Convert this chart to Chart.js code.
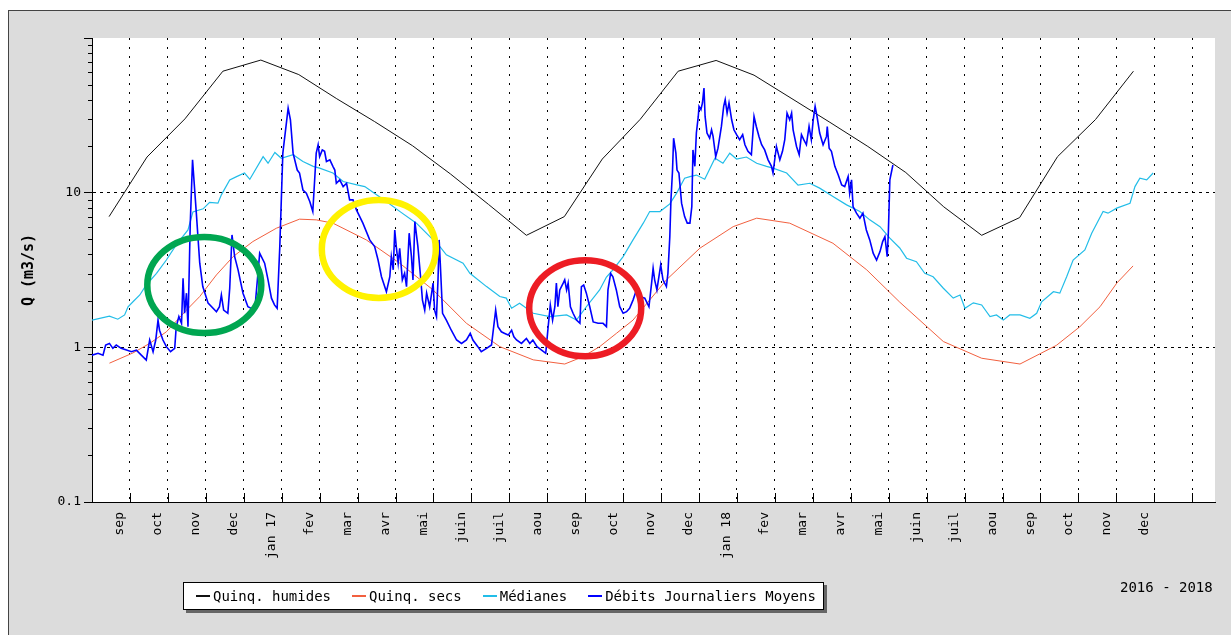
<!DOCTYPE html>
<html>
  <head>
    <meta charset="utf-8" />
    <title>Débits Journaliers Moyens 2016 - 2018</title>
    <style>
      body { margin: 0; background: #fff; }
      #frame {
        position: absolute; left: 8px; top: 10px; width: 1222px; height: 640px;
        background: #dcdcdc; border: 1px solid #444;
      }
      #chart { position: absolute; left: 0; top: 0; }
      #legend {
        position: absolute; left: 183px; top: 582px; height: 28px; box-sizing: border-box;
        padding: 0 7px 0 12px; background: #fff; border: 1px solid #000;
        box-shadow: 3px 3px 0 #666; display: flex; align-items: center;
        font: 14px "DejaVu Sans Mono", monospace; color: #000; white-space: nowrap;
      }
      #legend .item { display: flex; align-items: center; margin-right: 21px; }
      #legend .item:last-child { margin-right: 0; }
      #legend .swatch { width: 14px; height: 2px; margin-right: 3px; }
      #years {
        position: absolute; left: 1120px; top: 579px;
        font: 14px "DejaVu Sans Mono", monospace; color: #000; white-space: nowrap;
      }
    </style>
  </head>
  <body>
    <div id="frame"></div>
    <canvas id="chart" width="1231" height="635"></canvas>
    <div id="legend"></div>
    <div id="years">2016 - 2018</div>

    <script src="https://cdn.jsdelivr.net/npm/chart.js"></script>
    <script>
      // x = months counted from 1 Sep 2016 (0 = sep 2016, 12 = sep 2017 ...)
      const monthLabels = ["sep", "oct", "nov", "dec", "jan 17", "fev", "mar", "avr", "mai", "juin", "juil", "aou",
        "sep", "oct", "nov", "dec", "jan 18", "fev", "mar", "avr", "mai", "juin", "juil", "aou",
        "sep", "oct", "nov", "dec"];
      const yTickValues = [0.1, 0.2, 0.3, 0.4, 0.5, 0.6, 0.7, 0.8, 0.9, 1, 2, 3, 4, 5, 6, 7, 8, 9,
        10, 20, 30, 40, 50, 60, 70, 80, 90, 100];
      const yLabelValues = [0.1, 1, 10];
      const yLabelTexts = ["0.1", "1", "10"];

      // Quinq. humides (monthly)
      const humidesMonth = [-0.55, 0.45, 1.45, 2.45, 3.45, 4.45, 5.45, 6.45, 7.45, 8.45, 9.45, 10.45, 11.45, 12.45,
        13.45, 14.45, 15.45, 16.45, 17.45, 18.45, 19.45, 20.45, 21.45, 22.45, 23.45, 24.45, 25.45, 26.45];
      const humidesQ = [7.0, 17, 30, 61, 72, 58, 40.5, 28.8, 20.1, 13.2, 8.4, 5.3, 7.0, 16.5,
        29.8, 61, 71.6, 57.5, 40.5, 28.5, 19.9, 13.5, 8.1, 5.3, 6.9, 17.1, 29.7, 61];

      // Quinq. secs
      const secsMonth = [-0.54, 0.08, 0.52, 0.96, 1.49, 1.84, 2.28, 2.72, 3.24, 3.86, 4.47, 4.91, 5.35, 6.23, 7.11,
        7.99, 8.87, 9.75, 10.63, 11.46, 11.94, 12.38, 12.82, 13.26, 14.14, 15.02, 15.9, 16.52, 17.39, 18.53, 19.42,
        20.29, 21.44, 22.45, 23.46, 24.42, 25.04, 25.57, 26.01, 26.44];
      const secsQ = [0.79, 0.92, 1.06, 1.26, 1.74, 2.13, 2.94, 3.86, 4.83, 5.89, 6.74, 6.67, 6.35, 4.95, 3.5,
        2.35, 1.43, 1.01, 0.83, 0.78, 0.87, 1.01, 1.23, 1.5, 2.73, 4.37, 6.03, 6.84, 6.35, 4.71, 3.17,
        1.96, 1.09, 0.85, 0.78, 1.03, 1.36, 1.83, 2.6, 3.36];

      // Médianes
      const medianesMonth = [-1.0, -0.54, -0.32, -0.14, -0.05, 0.08, 0.26, 0.43, 0.7, 0.96,
        1.22, 1.53, 1.66, 1.93, 2.1, 2.32, 2.41, 2.63, 2.81, 3.02,
        3.16, 3.51, 3.64, 3.82, 3.99, 4.3, 4.56, 4.83, 5.0, 5.35,
        5.62, 6.01, 6.19, 6.5, 6.76, 7.11, 7.55, 8.17, 8.34, 8.78,
        8.96, 9.4, 9.75, 9.92, 10.06, 10.27, 10.63, 11.07, 11.51, 11.77,
        12.03, 12.38, 12.56, 12.73, 13.0, 13.26, 13.53, 13.7, 13.97, 14.23,
        14.41, 14.62, 14.76, 14.93, 15.15, 15.42, 15.63, 15.81, 15.99, 16.25,
        16.52, 16.78, 16.95, 17.31, 17.61, 17.92, 18.18, 18.53, 18.89, 19.24,
        19.5, 19.77, 20.03, 20.29, 20.47, 20.73, 20.95, 21.17, 21.44, 21.7,
        21.88, 22.01, 22.23, 22.45, 22.67, 22.84, 23.02, 23.19, 23.46, 23.72,
        23.9, 24.03, 24.34, 24.51, 24.69, 24.86, 25.17, 25.35, 25.65, 25.78,
        26.01, 26.36, 26.49, 26.62, 26.8, 26.97];
      const medianesQ = [1.5, 1.59, 1.52, 1.62, 1.83, 1.97, 2.18, 2.53, 3.01, 3.67,
        4.59, 5.74, 7.51, 7.86, 8.65, 8.55, 9.68, 12.1, 12.7, 13.4,
        12.2, 17.1, 15.5, 18.2, 16.7, 17.6, 15.9, 14.8, 14.4, 13.4,
        11.8, 11.2, 10.95, 9.68, 8.76, 7.57, 6.35, 4.48, 3.96, 3.5,
        3.01, 2.47, 2.13, 2.08, 1.79, 1.93, 1.66, 1.58, 1.62, 1.5,
        1.83, 2.35, 2.85, 3.17, 3.86, 4.95, 6.35, 7.55, 7.55, 8.46,
        9.93, 12.4, 12.7, 13.0, 12.2, 16.7, 15.5, 18.0, 16.5, 17.0,
        15.5, 14.8, 14.4, 13.4, 11.2, 11.5, 10.7, 9.44, 8.34, 7.55,
        6.67, 6.03, 5.08, 4.39, 3.77, 3.58, 3.01, 2.86, 2.41, 2.08,
        2.18, 1.79, 1.94, 1.88, 1.58, 1.62, 1.5, 1.62, 1.62, 1.54,
        1.66, 1.97, 2.29, 2.24, 2.86, 3.67, 4.26, 5.47, 7.55, 7.37,
        7.94, 8.55, 10.95, 12.4, 12.1, 13.4];

      // Débits Journaliers Moyens
      const debitsMonth = [-1.0, -0.84, -0.71, -0.64, -0.54, -0.45, -0.36, -0.23, -0.09, 0.04,
        0.17, 0.3, 0.43, 0.52, 0.61, 0.68, 0.74, 0.78, 0.87, 0.96,
        1.07, 1.18, 1.22, 1.29, 1.36, 1.4, 1.44, 1.49, 1.53, 1.59,
        1.65, 1.75, 1.84, 1.92, 2.06, 2.28, 2.36, 2.41, 2.47, 2.58,
        2.63, 2.69, 2.76, 2.85, 2.98, 3.11, 3.29, 3.42, 3.55, 3.64,
        3.73, 3.81, 3.88, 3.95, 4.03, 4.17, 4.23, 4.3, 4.41, 4.47,
        4.56, 4.65, 4.74, 4.82, 4.91, 4.96, 5.0, 5.07, 5.13, 5.18,
        5.27, 5.35, 5.4, 5.44, 5.53, 5.62, 5.71, 5.79, 5.88, 5.97,
        6.14, 6.32, 6.45, 6.54, 6.63, 6.76, 6.85, 6.89, 6.94, 6.98,
        7.02, 7.07, 7.11, 7.18, 7.24, 7.29, 7.36, 7.42, 7.46, 7.51,
        7.59, 7.66, 7.71, 7.77, 7.82, 7.9, 7.99, 8.03, 8.08, 8.12,
        8.15, 8.18, 8.24, 8.34, 8.47, 8.61, 8.74, 8.87, 8.97, 9.04,
        9.17, 9.26, 9.4, 9.53, 9.64, 9.7, 9.79, 9.88, 9.97, 10.06,
        10.12, 10.19, 10.32, 10.45, 10.54, 10.62, 10.73, 10.85, 10.96, 11.02,
        11.08, 11.14, 11.2, 11.24, 11.28, 11.33, 11.42, 11.46, 11.51, 11.55,
        11.61, 11.68, 11.77, 11.86, 11.9, 11.96, 12.03, 12.12, 12.21, 12.34,
        12.47, 12.56, 12.6, 12.67, 12.73, 12.82, 12.91, 13.0, 13.09, 13.17,
        13.26, 13.35, 13.44, 13.57, 13.68, 13.75, 13.79, 13.83, 13.89, 13.95,
        13.99, 14.05, 14.14, 14.18, 14.23, 14.26, 14.3, 14.33, 14.39, 14.42,
        14.47, 14.54, 14.62, 14.69, 14.76, 14.81, 14.84, 14.89, 14.93, 14.98,
        15.0, 15.05, 15.09, 15.13, 15.16, 15.21, 15.28, 15.33, 15.37, 15.44,
        15.5, 15.59, 15.65, 15.69, 15.74, 15.79, 15.86, 15.92, 15.99, 16.07,
        16.15, 16.21, 16.29, 16.38, 16.45, 16.51, 16.58, 16.65, 16.73, 16.82,
        16.91, 16.95, 17.04, 17.13, 17.2, 17.26, 17.32, 17.39, 17.44, 17.48,
        17.57, 17.64, 17.7, 17.76, 17.83, 17.9, 17.96, 18.01, 18.06, 18.11,
        18.18, 18.27, 18.36, 18.38, 18.43, 18.49, 18.58, 18.67, 18.76, 18.84,
        18.93, 18.97, 19.02, 19.06, 19.15, 19.24, 19.32, 19.41, 19.5, 19.59,
        19.68, 19.77, 19.84, 19.9, 19.96, 19.99, 20.03, 20.11];
      const debitsQ = [0.89, 0.915, 0.89, 1.035, 1.06, 0.985, 1.035, 0.985, 0.96, 0.937,
        0.96, 0.89, 0.828, 1.115, 0.937, 1.115, 1.5, 1.29, 1.115, 1.01,
        0.937, 0.985, 1.36, 1.58, 1.43, 2.8, 1.66, 2.24, 1.36, 6.35,
        16.3, 7.37, 3.5, 2.47, 1.93, 1.7, 1.83, 2.18, 1.74, 1.66,
        2.41, 5.33, 3.86, 3.17, 2.24, 1.83, 1.74, 4.06, 3.5, 2.73,
        2.08, 1.88, 1.79, 4.48, 18.0, 35.2, 29.6, 18.0, 14.0, 13.4,
        10.4, 9.93, 8.76, 7.55, 18.0, 20.4, 17.1, 18.9, 18.5, 15.9,
        16.3, 14.8, 14.0, 11.5, 12.1, 10.95, 11.5, 8.98, 8.98, 7.74,
        6.35, 4.95, 4.48, 3.67, 2.86, 2.29, 2.86, 3.86, 3.17, 5.74,
        4.48, 3.5, 4.37, 2.73, 3.01, 2.47, 5.47, 3.86, 2.73, 6.5,
        4.48, 2.86, 2.02, 1.74, 2.24, 1.83, 2.6, 1.74, 1.58, 2.73,
        4.95, 3.5, 1.66, 1.5, 1.29, 1.115, 1.06, 1.115, 1.23, 1.115,
        1.01, 0.937, 0.985, 1.035, 1.74, 1.36, 1.26, 1.23, 1.2, 1.29,
        1.17, 1.115, 1.06, 1.14, 1.06, 1.115, 1.01, 0.96, 0.915, 1.33,
        1.88, 1.5, 1.83, 2.6, 1.83, 2.35, 2.6, 2.73, 2.35, 2.6,
        1.83, 1.66, 1.5, 1.43, 2.47, 2.53, 2.24, 1.83, 1.46, 1.43,
        1.43, 1.36, 2.35, 3.01, 2.86, 2.35, 1.83, 1.66, 1.7, 1.79,
        2.02, 2.35, 2.13, 2.08, 1.83, 2.6, 3.25, 2.73, 2.35, 2.94,
        3.41, 2.73, 2.47, 3.01, 5.2, 8.98, 13.7, 22.5, 18.0, 14.0,
        13.4, 8.55, 7.0, 6.35, 6.35, 8.13, 18.9, 14.8, 24.3, 31.1,
        36.1, 34.4, 38.0, 47.5, 31.1, 24.3, 22.5, 25.5, 23.1, 17.1,
        19.4, 26.8, 36.1, 39.9, 32.7, 38.0, 29.6, 25.5, 23.7, 22.0,
        23.7, 20.4, 18.5, 17.6, 31.1, 26.8, 23.1, 20.4, 18.9, 16.3,
        14.8, 13.4, 19.9, 16.3, 18.5, 22.0, 32.7, 29.6, 32.7, 25.5,
        19.9, 17.6, 23.7, 22.0, 20.4, 26.8, 22.0, 29.6, 36.1, 31.1,
        24.3, 20.4, 23.1, 26.8, 19.4, 18.5, 14.8, 13.0, 11.2, 10.95,
        12.7, 9.93, 12.1, 8.13, 7.37, 6.84, 7.37, 5.74, 4.95, 4.06,
        3.67, 4.16, 4.83, 5.2, 3.86, 5.47, 12.1, 15.1];

      // hand-drawn highlight ellipses (centre in data units)
      const highlights = [
        { month: 1.96, q: 2.53, rx: 57, ry: 48, color: "#00a651" },
        { month: 6.56, q: 4.33, rx: 57, ry: 49, color: "#fff200" },
        { month: 12.0, q: 1.79, rx: 56, ry: 48, color: "#ed1c24" },
      ];

      function points(xs, ys) {
        if (xs.length !== ys.length) console.error("length mismatch", xs.length, ys.length);
        return xs.map((x, i) => ({ x: x, y: ys[i] }));
      }
      function isDecade(v) {
        const l = Math.log10(v);
        return Math.abs(l - Math.round(l)) < 1e-6;
      }
      const monoFont = "'DejaVu Sans Mono', monospace";

      const plotBackground = {
        id: "plotBackground",
        beforeDraw(chart) {
          const a = chart.chartArea;
          const ctx = chart.ctx;
          ctx.save();
          ctx.fillStyle = "#fff";
          ctx.fillRect(a.left, a.top, a.right - a.left, a.bottom - a.top);
          ctx.restore();
        },
      };

      // short inner ticks on the time axis + minor ticks on the log axis
      const extraTicks = {
        id: "extraTicks",
        afterDraw(chart) {
          const { ctx, chartArea: a, scales } = chart;
          ctx.save();
          ctx.strokeStyle = "#000";
          ctx.lineWidth = 1;
          ctx.beginPath();
          scales.x.ticks.forEach((t) => {
            const px = Math.round(scales.x.getPixelForValue(t.value)) + 0.5;
            ctx.moveTo(px, a.bottom);
            ctx.lineTo(px, a.bottom - 9);
          });
          scales.y.ticks.forEach((t) => {
            if (isDecade(t.value)) return;
            const py = Math.round(scales.y.getPixelForValue(t.value)) + 0.5;
            ctx.moveTo(a.left, py);
            ctx.lineTo(a.left - 4, py);
          });
          ctx.stroke();
          ctx.restore();
        },
      };

      const ellipses = {
        id: "ellipses",
        afterDatasetsDraw(chart) {
          const { ctx, scales } = chart;
          ctx.save();
          ctx.lineWidth = 6.5;
          highlights.forEach((h) => {
            ctx.strokeStyle = h.color;
            ctx.beginPath();
            ctx.ellipse(scales.x.getPixelForValue(h.month), scales.y.getPixelForValue(h.q), h.rx, h.ry, 0, 0, Math.PI * 2);
            ctx.stroke();
          });
          ctx.restore();
        },
      };

      const chart = new Chart(document.getElementById("chart"), {
        type: "line",
        data: {
          datasets: [
            { label: "Quinq. humides", data: points(humidesMonth, humidesQ), borderColor: "#111", borderWidth: 1, order: 1 },
            { label: "Quinq. secs", data: points(secsMonth, secsQ), borderColor: "#f2603f", borderWidth: 1, order: 2 },
            { label: "Médianes", data: points(medianesMonth, medianesQ), borderColor: "#22bde8", borderWidth: 1.2, order: 3 },
            { label: "Débits Journaliers Moyens", data: points(debitsMonth, debitsQ), borderColor: "#0000ff", borderWidth: 1.6, order: 0 },
          ],
        },
        options: {
          responsive: false,
          animation: false,
          events: [],
          elements: { point: { radius: 0 }, line: { tension: 0, fill: false } },
          layout: { padding: { left: 0, top: 38, right: 16, bottom: 73 } },
          plugins: { legend: { display: false }, tooltip: { enabled: false } },
          scales: {
            x: {
              type: "linear",
              min: -1,
              max: 28.6,
              afterBuildTicks(scale) {
                scale.ticks = monthLabels.concat([""]).map((_, i) => ({ value: i }));
              },
              afterFit(scale) { scale.height = 60; },
              ticks: {
                autoSkip: false,
                minRotation: 90,
                maxRotation: 90,
                labelOffset: -10,
                padding: 10,
                color: "#000",
                font: { family: monoFont, size: 13 },
                callback: (v) => monthLabels[v] || "",
              },
              grid: { color: "#000", lineWidth: 1, drawTicks: false },
              border: { color: "#000", width: 1, dash: [2, 7] },
            },
            y: {
              type: "logarithmic",
              min: 0.1,
              max: 100,
              afterBuildTicks(scale) {
                scale.ticks = yTickValues.map((v) => ({ value: v }));
              },
              afterFit(scale) { scale.width = 92; },
              ticks: {
                autoSkip: false,
                padding: 3,
                color: "#000",
                font: { family: monoFont, size: 13 },
                callback: (v) => {
                  const i = yLabelValues.findIndex((l) => Math.abs(l - v) < 1e-9);
                  return i >= 0 ? yLabelTexts[i] : "";
                },
              },
              grid: {
                lineWidth: 1,
                tickLength: 8,
                color: (c) => (c.tick && (Math.abs(c.tick.value - 1) < 1e-9 || Math.abs(c.tick.value - 10) < 1e-9) ? "#000" : "rgba(0,0,0,0)"),
                tickColor: (c) => (c.tick && isDecade(c.tick.value) ? "#000" : "rgba(0,0,0,0)"),
              },
              border: { color: "#000", width: 1, dash: [3, 4] },
              title: {
                display: true,
                text: "Q (m3/s)",
                color: "#000",
                font: { family: monoFont, size: 15, weight: "bold" },
                padding: { top: 20, bottom: 0 },
              },
            },
          },
        },
        plugins: [plotBackground, extraTicks, ellipses],
      });

      // legend built from the chart datasets
      const legend = document.getElementById("legend");
      chart.data.datasets.forEach((ds) => {
        const item = document.createElement("div");
        item.className = "item";
        item.innerHTML = `<span class="swatch" style="background:${ds.borderColor}"></span><span>${ds.label}</span>`;
        legend.appendChild(item);
      });
    </script>
  </body>
</html>
